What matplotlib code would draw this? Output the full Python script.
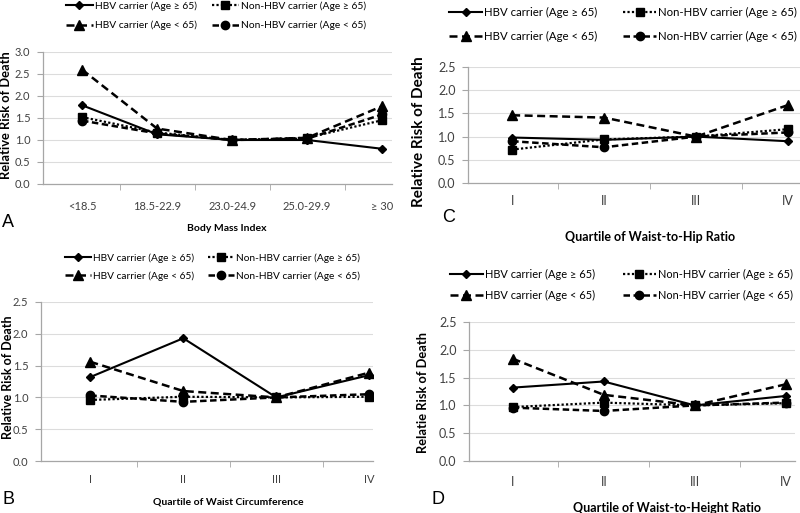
import matplotlib
matplotlib.use("Agg")
import matplotlib.pyplot as plt

plt.rcParams['font.family'] = ['Lato', 'DejaVu Sans']

# ---- data ----
bmi_cats = ['<18.5', '18.5-22.9', '23.0-24.9', '25.0-29.9', '\u2265 30']
quart_cats = ['I', 'II', 'III', 'IV']

series_names = ['HBV carrier (Age \u2265 65)', 'HBV carrier (Age < 65)',
                'Non-HBV carrier (Age \u2265 65)', 'Non-HBV carrier (Age < 65)']

# panel A - body mass index
bmi_hbv_old = [1.79, 1.13, 1.00, 1.00, 0.80]
bmi_hbv_young = [2.60, 1.26, 1.00, 1.05, 1.77]
bmi_non_old = [1.52, 1.17, 1.00, 1.05, 1.45]
bmi_non_young = [1.44, 1.15, 1.00, 1.03, 1.58]

# panel B - waist circumference
wc_hbv_old = [1.32, 1.93, 1.00, 1.35]
wc_hbv_young = [1.56, 1.10, 1.00, 1.39]
wc_non_old = [0.96, 1.01, 1.00, 1.01]
wc_non_young = [1.03, 0.93, 1.00, 1.05]

# panel C - waist-to-hip ratio
whr_hbv_old = [0.98, 0.93, 1.00, 0.90]
whr_hbv_young = [1.46, 1.41, 1.00, 1.68]
whr_non_old = [0.72, 0.94, 1.00, 1.16]
whr_non_young = [0.90, 0.77, 1.00, 1.09]

# panel D - waist-to-height ratio
wht_hbv_old = [1.32, 1.43, 1.00, 1.17]
wht_hbv_young = [1.84, 1.19, 1.00, 1.38]
wht_non_old = [0.97, 1.05, 1.00, 1.04]
wht_non_young = [0.96, 0.90, 1.00, 1.05]

W, H = 800, 513
fig = plt.figure(figsize=(W / 100, H / 100), dpi=100)

styles = [
    dict(color='black', lw=1.5, ls='-', marker='D', ms=4.5),
    dict(color='black', lw=1.8, ls=(0, (3.2, 1.8)), marker='^', ms=7),
    dict(color='black', lw=1.6, ls=(0, (1, 1)), marker='s', ms=6),
    dict(color='black', lw=1.8, ls=(0, (2.6, 1.4)), marker='o', ms=6),
]


def px_axes(left, right, top, bottom):
    return fig.add_axes([left / W, 1 - bottom / H, (right - left) / W, (bottom - top) / H])


def draw_panel(box, cats, data, ymax, xlim, ylabel, xlabel, fs, ylab_fs, xlab_fs,
               tick_pad, xlab_pos, ylab_pos, leg1, leg2, leg_fs, hlen, lspace,
               letter, letter_xy):
    ax = px_axes(*box)
    x = list(range(len(cats)))
    lines = []
    for vals, st in zip(data, styles):
        ln, = ax.plot(x, vals, markeredgecolor='black', markerfacecolor='black', **st)
        lines.append(ln)
    ax.set_ylim(0, ymax)
    ax.set_xlim(*xlim)
    yt = [i * 0.5 for i in range(int(ymax / 0.5) + 1)]
    ax.set_yticks(yt)
    ax.set_yticklabels(['%.1f' % v for v in yt], fontsize=fs, color='#404040')
    ax.set_xticks(x)
    ax.set_xticklabels(cats, fontsize=fs, color='#404040')
    ax.set_xticks([i + 0.5 for i in range(len(cats) - 1)], minor=True)
    ax.tick_params(axis='x', which='major', length=0, pad=tick_pad)
    ax.tick_params(axis='x', which='minor', length=4, color='#a6a6a6', direction='out')
    ax.tick_params(axis='y', length=4, color='#a6a6a6', pad=5)
    ax.grid(axis='y', color='#dcdcdc', lw=0.8)
    ax.set_axisbelow(True)
    for s in ['top', 'right']:
        ax.spines[s].set_visible(False)
    for s in ['left', 'bottom']:
        ax.spines[s].set_color('#a6a6a6')
        ax.spines[s].set_linewidth(0.9)
    ax.set_ylabel(ylabel, fontsize=ylab_fs, fontweight='bold')
    ax.yaxis.set_label_coords(*ylab_pos)
    ax.yaxis.label.set_va('center')
    ax.set_xlabel(xlabel, fontsize=xlab_fs, fontweight='bold')
    ax.xaxis.set_label_coords(*xlab_pos)
    ax.xaxis.label.set_va('center')

    # two legend columns placed by pixel position of their top-left corner
    kw = dict(loc='upper left', bbox_transform=fig.transFigure, frameon=False,
              fontsize=leg_fs, handlelength=hlen, handletextpad=0.2,
              borderpad=0, borderaxespad=0, labelspacing=lspace)
    l1 = ax.legend(lines[:2], series_names[:2],
                   bbox_to_anchor=(leg1[0] / W, 1 - leg1[1] / H), **kw)
    ax.add_artist(l1)
    ax.legend(lines[2:], series_names[2:],
              bbox_to_anchor=(leg2[0] / W, 1 - leg2[1] / H), **kw)
    fig.text(letter_xy[0] / W, 1 - letter_xy[1] / H, letter, fontsize=13,
             family='Liberation Sans', ha='center', va='center')
    return ax


draw_panel((43, 392, 52, 184), bmi_cats,
           [bmi_hbv_old, bmi_hbv_young, bmi_non_old, bmi_non_young],
           3.0, (-0.52, 4.13), 'Relative Risk of Death', 'Body Mass Index',
           8, 9.3, 7.5, 12.5, (0.527, -0.34), (-0.105, 0.52),
           (66, 1), (212, 1), 7.4, 2.6, 1.0, 'A', (8, 223))

draw_panel((41, 373, 302, 461), quart_cats,
           [wc_hbv_old, wc_hbv_young, wc_non_old, wc_non_young],
           2.5, (-0.53, 3.04), 'Relative Risk of Death', 'Quartile of Waist Circumference',
           8, 9.0, 7.5, 9.5, (0.563, -0.258), (-0.10, 0.53),
           (65, 253), (208, 253), 7.3, 2.6, 0.87, 'B', (9, 499))

draw_panel((468, 800, 67, 183), quart_cats,
           [whr_hbv_old, whr_hbv_young, whr_non_old, whr_non_young],
           2.5, (-0.48, 3.13), 'Relative Risk of Death', 'Quartile of Waist-to-Hip Ratio',
           9, 11.0, 9, 9, (0.548, -0.466), (-0.148, 0.44),
           (449, 7), (623, 7), 8.2, 2.9, 1.15, 'C', (449, 217))

draw_panel((469, 795, 322, 461), quart_cats,
           [wht_hbv_old, wht_hbv_young, wht_non_old, wht_non_young],
           2.5, (-0.48, 3.1), 'Relatie Risk of Death', 'Quartile of Waist-to-Height Ratio',
           9, 9.3, 9, 11, (0.607, -0.338), (-0.14, 0.496),
           (450, 269), (623, 269), 7.9, 3.0, 0.9, 'D', (438, 499))

fig.savefig('out.png', dpi=100)
